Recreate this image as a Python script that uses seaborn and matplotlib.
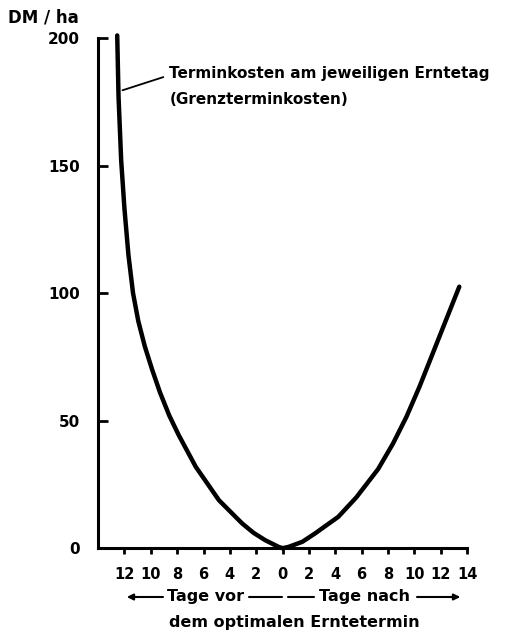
import pandas as pd
import matplotlib.pyplot as plt
import seaborn as sns

# days relative to the optimal harvest date (negative = before), cost in DM/ha
left_days = [-12.55, -12.45, -12.25, -12.0, -11.7, -11.35, -10.95, -10.45, -9.9, -9.3,
             -8.6, -7.9, -6.59, -4.83, -3.07, -2.2, -1.31, -0.3, 0.0]
left_cost = [201, 177, 152, 133, 115, 100, 89, 79, 70, 61,
             52, 44.5, 31.9, 18.8, 9.7, 6.0, 3.1, 0.5, 0]

right_days = [0.0, 0.45, 1.5, 2.47, 4.23, 5.61, 7.25, 8.38, 9.4, 10.39, 11.4, 12.4, 13.41]
right_cost = [0, 0.5, 2.5, 5.8, 12.3, 20.0, 31.0, 41.0, 51.5, 63.3, 76.4, 89.4, 102.5]

x_ticks = [-12, -10, -8, -6, -4, -2, 0, 2, 4, 6, 8, 10, 12, 14]
x_labels = ["12", "10", "8", "6", "4", "2", "0", "2", "4", "6", "8", "10", "12", "14"]
y_ticks = [0, 50, 100, 150, 200]

df = pd.concat([
    pd.DataFrame({"tag": left_days, "kosten": left_cost, "seite": "vor"}),
    pd.DataFrame({"tag": right_days, "kosten": right_cost, "seite": "nach"}),
])

sns.set_style("ticks")
plt.rcParams["font.family"] = ["DejaVu Sans"]
plt.rcParams["font.weight"] = "bold"
plt.rcParams["text.color"] = "black"

fig = plt.figure(figsize=(5.11, 6.33), dpi=100)
ax = fig.add_axes([0.192, 0.134, 0.722, 0.806])

sns.lineplot(data=df, x="tag", y="kosten", units="seite", estimator=None,
             sort=False, color="black", linewidth=3.2, ax=ax, clip_on=False,
             solid_joinstyle="round", solid_capstyle="round")

ax.set_xlim(-14, 14)
ax.set_ylim(0, 200)
ax.set_xticks(x_ticks)
ax.set_xticklabels(x_labels, fontsize=10.5, fontweight="bold")
ax.set_yticks(y_ticks)
ax.set_yticklabels([str(v) for v in y_ticks], fontsize=11, fontweight="bold")
ax.tick_params(axis="y", direction="in", length=7, width=2, pad=13, colors="black")
ax.tick_params(axis="x", direction="out", length=4.5, width=2, pad=9, colors="black")
ax.set_xlabel("")
ax.set_ylabel("")

sns.despine(ax=ax)
for side in ["left", "bottom"]:
    ax.spines[side].set_linewidth(2.2)
    ax.spines[side].set_color("black")

fig.text(8 / 511, 1 - 18 / 633, "DM / ha", fontsize=12, fontweight="bold", va="center", ha="left")

ax.annotate("Terminkosten am jeweiligen Erntetag\n(Grenzterminkosten)",
            xy=(-12.15, 179.5), xytext=(-8.6, 181),
            fontsize=11, fontweight="bold", va="center", ha="left",
            linespacing=1.85, annotation_clip=False,
            arrowprops=dict(arrowstyle="-", color="black", lw=1.3,
                            relpos=(0, 0.78), shrinkA=2, shrinkB=0))

# lower caption with arrows
yc = 1 - 597 / 633
fig.text(0.403, yc, "Tage vor", fontsize=11.5, fontweight="bold", ha="center", va="center")
fig.text(0.714, yc, "Tage nach", fontsize=11.5, fontweight="bold", ha="center", va="center")
fig.text(0.575, 1 - 622 / 633, "dem optimalen Erntetermin", fontsize=11.5, fontweight="bold",
         ha="center", va="center")
for x0, x1 in [(163, 130), (249, 282), (288, 314), (417, 458)]:
    fig.add_artist(plt.Line2D([x0 / 511, x1 / 511], [yc, yc], color="black", lw=1.5))
ax.annotate("", xy=(124 / 511, yc), xytext=(140 / 511, yc), xycoords="figure fraction",
            arrowprops=dict(arrowstyle="-|>", color="black", lw=1.5, mutation_scale=9))
ax.annotate("", xy=(463 / 511, yc), xytext=(447 / 511, yc), xycoords="figure fraction",
            arrowprops=dict(arrowstyle="-|>", color="black", lw=1.5, mutation_scale=9))

fig.savefig("out.png", dpi=100)
